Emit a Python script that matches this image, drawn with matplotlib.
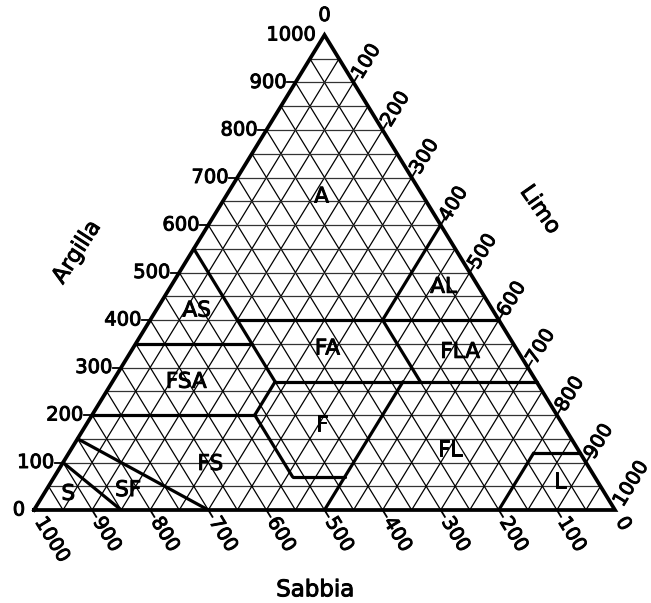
import numpy as np
import matplotlib
matplotlib.use("Agg")
import matplotlib.pyplot as plt
import matplotlib.patheffects as pe

# ---------------- data (g/kg) ----------------
tick_values = [0, 100, 200, 300, 400, 500, 600, 700, 800, 900, 1000]
grid_step = 50

# class boundaries as polylines of (sand, silt, clay)
boundary_lines = [
    [(450, 0, 550), (450, 280, 270)],
    [(450, 150, 400), (0, 600, 400)],
    [(200, 400, 400), (0, 400, 600)],
    [(200, 400, 400), (200, 530, 270)],
    [(650, 0, 350), (450, 200, 350)],
    [(450, 280, 270), (0, 730, 270)],
    [(450, 280, 270), (520, 280, 200)],
    [(800, 0, 200), (520, 280, 200)],
    [(520, 280, 200), (520, 410, 70)],
    [(520, 410, 70), (430, 500, 70)],
    [(500, 500, 0), (230, 500, 270)],
    [(200, 800, 0), (80, 800, 120)],
    [(80, 800, 120), (0, 880, 120)],
    [(850, 0, 150), (700, 300, 0)],
    [(900, 0, 100), (850, 150, 0)],
]

class_names = ["A", "AL", "AS", "FA", "FLA", "FSA", "F", "FL", "FS", "SF", "S", "L"]
class_sand = [175, 60, 510, 325, 100, 603, 415, 221, 648, 817, 924, 65]
class_silt = [165, 470, 70, 335, 567, 127, 406, 653, 255, 141, 42, 876]
class_clay = [660, 470, 420, 340, 333, 270, 179, 126, 97, 42, 34, 59]

axis_titles = ["Argilla", "Limo", "Sabbia"]

# ---------------- figure ----------------
fig = plt.figure(figsize=(6.51, 6.03), dpi=100)
ax = fig.add_axes([34 / 651, 93 / 603, 581 / 651, 475 / 603])
ax.set_xlim(0, 1000)
ax.set_ylim(0, 1000)
ax.axis("off")

FONT = "DejaVu Sans"
FX = [pe.withStroke(linewidth=0.7, foreground="black")]

def xy(sand, silt, clay):
    return silt + clay / 2.0, clay

# pixel -> data scale
bb = ax.get_position()
px_x = bb.width * 651 / 1000.0
px_y = bb.height * 603 / 1000.0

def pix(dx, dy):
    return dx / px_x, dy / px_y

ang = np.degrees(np.arctan2(px_y * 1.0, px_x * 0.5))
ux, uy = np.cos(np.radians(ang)), np.sin(np.radians(ang))

# grid
for v in range(grid_step, 1000, grid_step):
    for a, b, c in [
        ((1000 - v, 0, v), (0, 1000 - v, v), "h"),
        ((1000 - v, v, 0), (0, v, 1000 - v), "l"),
        ((v, 1000 - v, 0), (v, 0, 1000 - v), "s"),
    ]:
        p, q = xy(*a), xy(*b)
        col = "#333333" if c == "h" else "black"
        ax.plot([p[0], q[0]], [p[1], q[1]], color=col, lw=0.9, solid_capstyle="butt", zorder=1)

# outline
corners = [xy(1000, 0, 0), xy(0, 1000, 0), xy(0, 0, 1000), xy(1000, 0, 0)]
ax.plot([p[0] for p in corners], [p[1] for p in corners], color="black", lw=2.7,
        solid_joinstyle="miter", zorder=3, clip_on=False)

# boundaries
for line in boundary_lines:
    pts = [xy(*p) for p in line]
    ax.plot([p[0] for p in pts], [p[1] for p in pts], color="black", lw=2.3,
            solid_capstyle="round", zorder=2)

# class labels
for n, s, l, c in zip(class_names, class_sand, class_silt, class_clay):
    x, y = xy(s, l, c)
    ax.text(x, y, n, ha="center", va="center", fontsize=15.5, family=FONT,
            zorder=5, path_effects=FX)

TK = 8   # tick length in px
TFS = 14

# clay ticks (left edge)
for v in tick_values:
    x, y = xy(1000 - v, 0, v)
    if 0 < v < 1000:
        dx, _ = pix(TK, 0)
        ax.plot([x - dx, x], [y, y], color="black", lw=1.3, clip_on=False)
    dx, _ = pix(9, 0)
    ax.text(x - dx, y, str(v), ha="right", va="center", fontsize=TFS, family=FONT,
            path_effects=FX, clip_on=False)

# silt ticks (right edge)
for v in tick_values:
    x, y = xy(0, v, 1000 - v)
    if v == 0:
        dx, dy = pix(0, 10)
        ax.text(x, y + dy, "0", ha="center", va="bottom", fontsize=TFS, family=FONT,
                path_effects=FX, clip_on=False)
        continue
    if v < 1000:
        dx, dy = pix(TK * ux, TK * uy)
        ax.plot([x, x + dx], [y, y + dy], color="black", lw=1.3, clip_on=False)
    g = 6
    dx, dy = pix(g * ux, g * uy)
    ax.text(x + dx, y + dy, str(v), ha="left", va="center", rotation=ang,
            rotation_mode="anchor", fontsize=TFS, family=FONT, path_effects=FX,
            clip_on=False)

# sand ticks (bottom edge)
for v in tick_values:
    x, y = xy(v, 1000 - v, 0)
    if 0 < v < 1000:
        dx, dy = pix(TK * ux, -TK * uy)
        ax.plot([x, x + dx], [y, y + dy], color="black", lw=1.3, clip_on=False)
    dx, dy = pix(10 * ux, -10 * uy)
    ax.text(x + dx, y + dy, str(v), ha="left", va="center", rotation=-ang,
            rotation_mode="anchor", fontsize=TFS, family=FONT, path_effects=FX,
            clip_on=False)

# axis titles
ax.text(0.074, 0.543, axis_titles[0], transform=ax.transAxes, rotation=57,
        ha="center", va="center", fontsize=16, family=FONT, path_effects=FX)
ax.text(0.871, 0.632, axis_titles[1], transform=ax.transAxes, rotation=-55,
        ha="center", va="center", fontsize=16, family=FONT, path_effects=FX)
ax.text(0.484, -0.168, axis_titles[2], transform=ax.transAxes,
        ha="center", va="center", fontsize=16.5, family=FONT, path_effects=FX)

fig.savefig("out.png", dpi=100, facecolor="white")
